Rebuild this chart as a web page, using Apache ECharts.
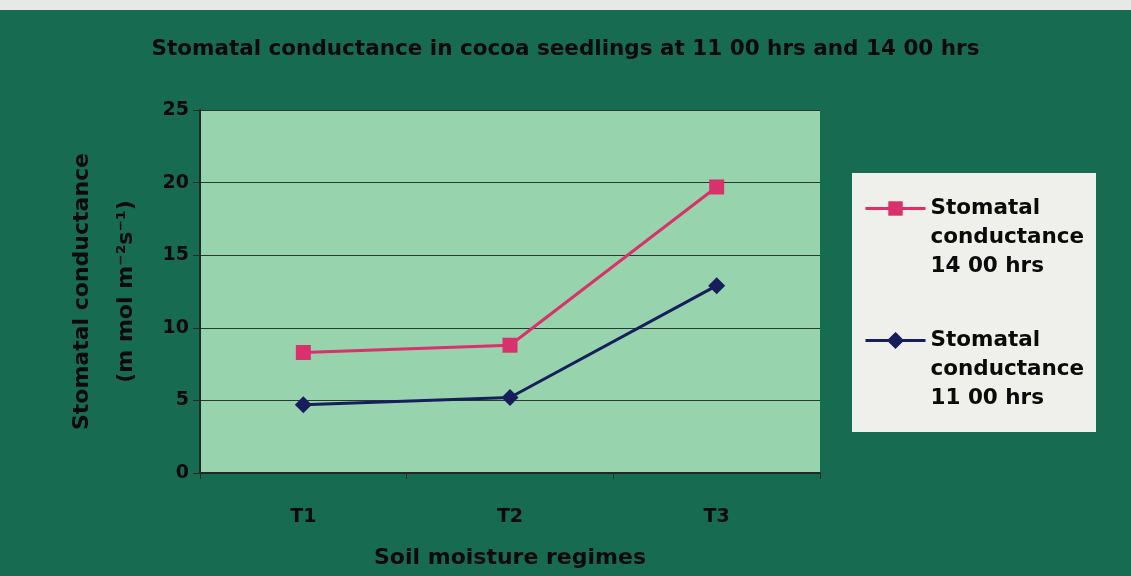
<!DOCTYPE html>
<html>
<head>
<meta charset="utf-8">
<script src="https://cdn.jsdelivr.net/npm/echarts@6/dist/echarts.min.js"></script>
<style>
  html, body { margin: 0; padding: 0; }
  #chart { width: 1131px; height: 576px; }
</style>
</head>
<body>
<div id="chart"></div>
<script>
const categories = ['T1', 'T2', 'T3']
const cond1400 = [8.3, 8.8, 19.7]
const cond1100 = [4.7, 5.2, 12.9]
const seriesNames = ['Stomatal conductance 14 00 hrs', 'Stomatal conductance 11 00 hrs']

const chart = echarts.init(document.getElementById('chart'))
const font = '"DejaVu Sans", "Liberation Sans", sans-serif'

chart.setOption({
  backgroundColor: '#176b51',
  animation: false,
  color: ['#d8316b', '#161f5c'],
  title: {
    text: 'Stomatal conductance in cocoa seedlings at 11 00 hrs and 14 00 hrs',
    left: 'center',
    top: 33,
    textStyle: { fontFamily: font, fontWeight: 'bold', fontSize: 21.5, color: '#0a0a0a' }
  },
  graphic: [
    // light strip along the top edge of the photo
    { type: 'rect', shape: { x: 0, y: 0, width: 1131, height: 10 }, style: { fill: '#e6eae6' } },
    // legend box
    { type: 'rect', shape: { x: 852, y: 173, width: 244, height: 259 }, style: { fill: '#efefeb' } }
  ],
  legend: {
    orient: 'vertical',
    left: 864,
    top: 136,
    padding: 0,
    itemWidth: 60,
    itemHeight: 18,
    itemGap: -13,
    data: [
      { name: seriesNames[0] },
      { name: seriesNames[1], itemStyle: { borderWidth: 2, borderColor: '#161f5c' } }
    ],
    lineStyle: { width: 3 },
    formatter: function(name) {
      // two blank lines first so the icon sits on the first text line
      return '\n\n' + name.replace('Stomatal ', 'Stomatal\n').replace('conductance ', 'conductance\n')
    },
    textStyle: {
      fontFamily: font,
      fontWeight: 'bold',
      fontSize: 21.5,
      lineHeight: 29,
      color: '#0a0a0a'
    }
  },
  grid: {
    left: 200,
    right: 311,
    top: 110,
    bottom: 103,
    show: true,
    backgroundColor: '#97d4ad',
    borderWidth: 0
  },
  xAxis: {
    type: 'category',
    data: categories,
    boundaryGap: true,
    name: 'Soil moisture regimes',
    nameLocation: 'middle',
    nameGap: 74,
    nameTextStyle: { fontFamily: font, fontWeight: 'bold', fontSize: 22, color: '#0a0a0a' },
    axisLine: { lineStyle: { color: '#1c2c24', width: 2 } },
    axisTick: { show: true, length: 6, lineStyle: { color: '#1c2c24' } },
    axisLabel: { margin: 35, fontFamily: font, fontWeight: 'bold', fontSize: 19, color: '#0a0a0a' }
  },
  yAxis: {
    type: 'value',
    min: 0,
    max: 25,
    interval: 5,
    name: 'Stomatal conductance\n(m mol m\u207B\u00B2s\u207B\u00B9)',
    nameLocation: 'middle',
    nameRotate: 90,
    nameGap: 52,
    nameTextStyle: { fontFamily: font, fontWeight: 'bold', fontSize: 22, lineHeight: 44, color: '#0a0a0a' },
    axisLine: { show: true, lineStyle: { color: '#1c2c24', width: 2 } },
    axisTick: { show: true, length: 7, lineStyle: { color: '#1c2c24' } },
    axisLabel: { margin: 11, fontFamily: font, fontWeight: 'bold', fontSize: 19, color: '#0a0a0a' },
    splitLine: { lineStyle: { color: '#2a3a30', width: 1.2 } }
  },
  series: [
    {
      name: seriesNames[0],
      type: 'line',
      data: cond1400,
      symbol: 'rect',
      symbolSize: 15,
      lineStyle: { width: 3 }
    },
    {
      name: seriesNames[1],
      type: 'line',
      data: cond1100,
      symbol: 'diamond',
      symbolSize: 17,
      lineStyle: { width: 3 }
    }
  ]
})
window.addEventListener('resize', () => chart.resize())
</script>
</body>
</html>
